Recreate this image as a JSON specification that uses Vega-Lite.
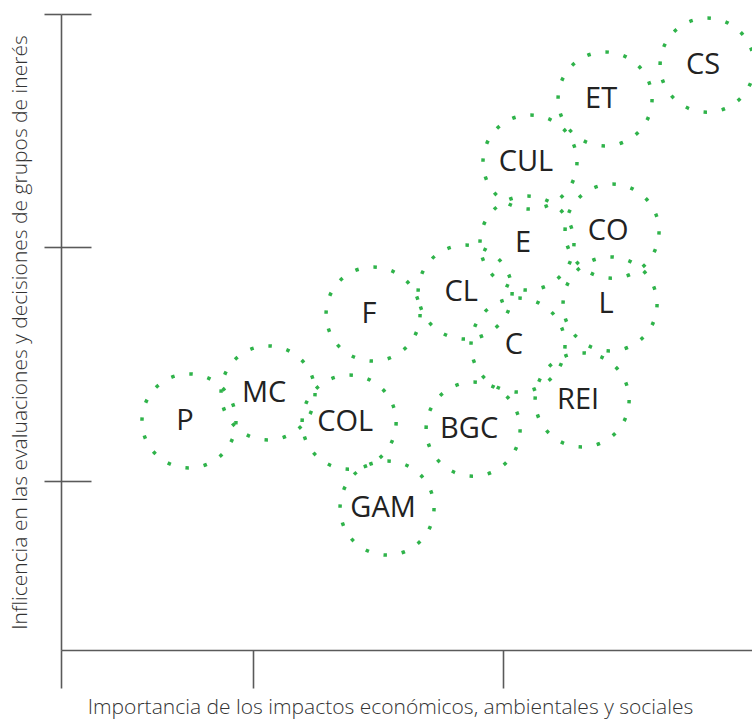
{
  "$schema": "https://vega.github.io/schema/vega-lite/v6.json",
  "width": 691,
  "height": 636,
  "autosize": {"type": "none"},
  "padding": {"left": 61, "top": 14, "right": 0, "bottom": 70},
  "background": "#ffffff",
  "config": {"view": {"stroke": null}, "font": "Open Sans"},
  "data": {"values": [
    {"code": "CS", "x": 2.820, "y": 2.781},
    {"code": "ET", "x": 2.411, "y": 2.636},
    {"code": "CUL", "x": 2.110, "y": 2.366},
    {"code": "E", "x": 2.098, "y": 2.019},
    {"code": "CO", "x": 2.439, "y": 2.070},
    {"code": "L", "x": 2.431, "y": 1.758},
    {"code": "CL", "x": 1.850, "y": 1.809},
    {"code": "F", "x": 1.481, "y": 1.715},
    {"code": "C", "x": 2.062, "y": 1.582},
    {"code": "MC", "x": 1.060, "y": 1.377},
    {"code": "P", "x": 0.743, "y": 1.257},
    {"code": "COL", "x": 1.385, "y": 1.252},
    {"code": "BGC", "x": 1.882, "y": 1.222},
    {"code": "REI", "x": 2.319, "y": 1.347},
    {"code": "GAM", "x": 1.537, "y": 0.884}
  ]},
  "resolve": {"axis": {"y": "independent"}},
  "layer": [
    {
      "mark": {"type": "point", "shape": "circle", "filled": false, "size": 8836, "stroke": "#2fb34a", "strokeWidth": 3.5, "strokeDash": [3.5, 14.96], "opacity": 1},
      "encoding": {
        "x": {"field": "x", "type": "quantitative", "scale": {"domain": [0.23, 3.0], "nice": false, "zero": false},
          "axis": {"orient": "bottom", "values": [0.23, 1, 2], "labels": false, "grid": false, "domain": true, "domainColor": "#5a5a5a", "domainWidth": 1.6, "tickColor": "#5a5a5a", "tickWidth": 1.6, "tickSize": 38,
            "title": "Importancia de los impactos económicos, ambientales y sociales", "titleFont": "Open Sans", "titleFontWeight": 300, "titleFontSize": 21, "titleColor": "#333333", "titlePadding": 8, "titleX": 329, "titleAnchor": "middle"}},
        "y": {"field": "y", "type": "quantitative", "scale": {"domain": [0.276, 3.0], "nice": false, "zero": false},
          "axis": {"orient": "left", "values": [1, 2, 3], "labels": false, "grid": false, "domain": true, "domainColor": "#5a5a5a", "domainWidth": 1.6, "tickColor": "#5a5a5a", "tickWidth": 1.6, "tickSize": 17,
            "title": "Inflicencia en las evaluaciones y decisiones de grupos de inerés", "titleFont": "Open Sans", "titleFontWeight": 300, "titleFontSize": 21, "titleColor": "#333333", "titlePadding": 13}}
      }
    },
    {
      "mark": {"type": "text", "font": "Open Sans", "fontSize": 29, "color": "#222222", "baseline": "middle", "align": "center", "dx": -4},
      "encoding": {
        "x": {"field": "x", "type": "quantitative"},
        "y": {"field": "y", "type": "quantitative",
          "axis": {"orient": "left", "offset": -30, "values": [1, 2, 3], "labels": false, "grid": false, "domain": false, "tickColor": "#5a5a5a", "tickWidth": 1.6, "tickSize": 30, "title": null}},
        "text": {"field": "code"}
      }
    }
  ]
}
